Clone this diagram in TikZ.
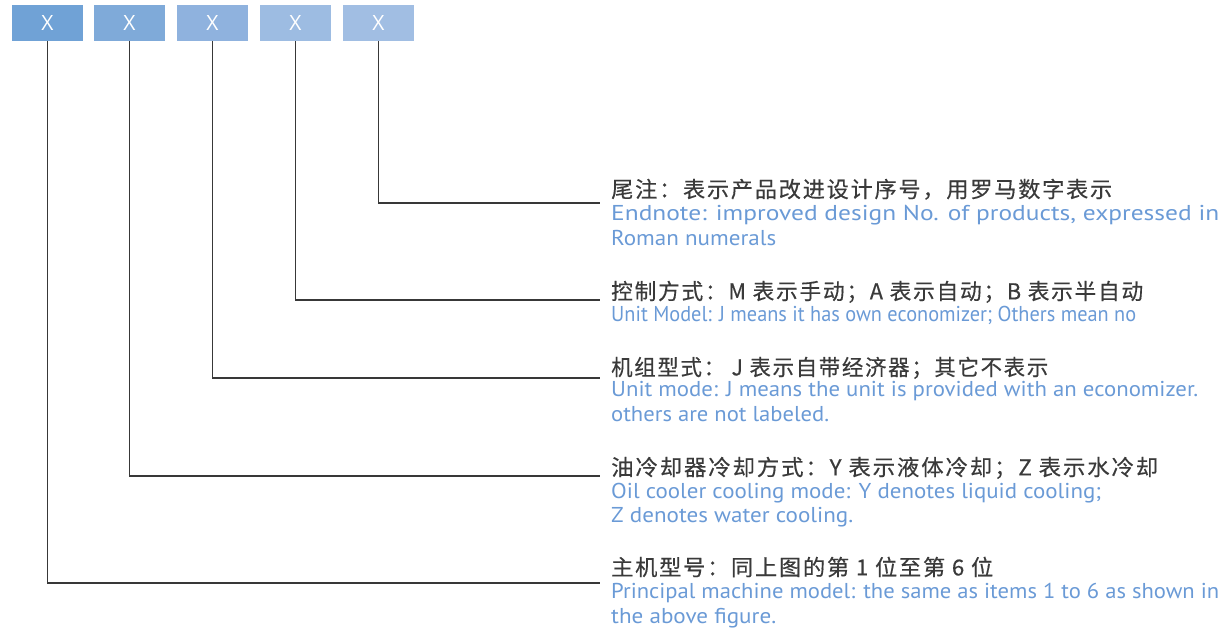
\documentclass[tikz,border=0pt]{standalone}
\usepackage{fontspec}
\usepackage{graphicx}
\newfontfamily\cjkfont[LetterSpace=8,FakeBold=0.4]{Noto Sans CJK SC}
\newfontfamily\enfont{PT Sans}
\newfontfamily\boxfont{Open Sans}
\newcommand\fitw[2]{\resizebox{#1pt}{\height}{#2}}
\definecolor{bxA}{HTML}{70A2D6}
\definecolor{bxB}{HTML}{7FAAD9}
\definecolor{bxC}{HTML}{8FB2DE}
\definecolor{bxD}{HTML}{9DBCE2}
\definecolor{bxE}{HTML}{A1BEE3}
\definecolor{zhgray}{HTML}{3A3A3A}
\definecolor{enblue}{HTML}{6A9AD6}
\definecolor{linegray}{HTML}{383838}
\tikzset{
  codebox/.style={minimum width=71pt, minimum height=36pt, inner sep=0pt, text=white,
    font=\boxfont\fontsize{21}{24}\selectfont},
  leader/.style={draw=linegray, line width=1.1pt},
  zh/.style={anchor=base west, inner sep=0pt, text=zhgray, font=\cjkfont\fontsize{22}{26}\selectfont},
  en/.style={anchor=base west, inner sep=0pt, text=enblue, font=\enfont\fontsize{21.5}{25}\selectfont},
}
\begin{document}
\begin{tikzpicture}[x=1pt, y=-1pt]
\useasboundingbox (0,0) rectangle (1230,630);
% code boxes
\node[codebox, fill=bxA] (b1) at (47.5,23) {X};
\node[codebox, fill=bxB] (b2) at (129.5,23) {X};
\node[codebox, fill=bxC] (b3) at (212.5,23) {X};
\node[codebox, fill=bxD] (b4) at (295.5,23) {X};
\node[codebox, fill=bxE] (b5) at (378.5,23) {X};
% leader ends
\coordinate (e5) at (600,203);
\coordinate (e4) at (600,300);
\coordinate (e3) at (600,378);
\coordinate (e2) at (600,476);
\coordinate (e1) at (600,583);
\draw[leader] (b5.south) |- (e5);
\draw[leader] (b4.south) |- (e4);
\draw[leader] (b3.south) |- (e3);
\draw[leader] (b2.south) |- (e2);
\draw[leader] (b1.south) |- (e1);
% texts
\node[zh] (z5) at (611,197.4) {\fitw{501}{尾注：表示产品改进设计序号，用罗马数字表示}};
\node[en] (n5a) at (611,220) {\fitw{608}{Endnote: improved design No. of products, expressed in}};
\node[en] (n5b) at (611,245) {\fitw{165}{Roman numerals}};
\node[zh] (z4) at (611,299.4) {\fitw{532}{控制方式：M 表示手动；A 表示自动；B 表示半自动}};
\node[en] (n4a) at (611,321.5) {\fitw{525}{Unit Model: J means it has own economizer; Others mean no}};
\node[zh] (z3) at (611,375.4) {\fitw{437}{机组型式： J 表示自带经济器；其它不表示}};
\node[en] (n3a) at (611,396.5) {\fitw{587}{Unit mode: J means the unit is provided with an economizer.}};
\node[en] (n3b) at (611,421.5) {\fitw{218}{others are not labeled.}};
\node[zh] (z2) at (611,475.4) {\fitw{547}{油冷却器冷却方式：Y 表示液体冷却；Z 表示水冷却}};
\node[en] (n2a) at (611,498.3) {\fitw{490}{Oil cooler cooling mode: Y denotes liquid cooling;}};
\node[en] (n2b) at (611,522.7) {\fitw{242}{Z denotes water cooling.}};
\node[zh] (z1) at (611,575.4) {\fitw{382}{主机型号：同上图的第 1 位至第 6 位}};
\node[en] (n1a) at (611,598.3) {\fitw{608}{Principal machine model: the same as items 1 to 6 as shown in}};
\node[en] (n1b) at (611,623.3) {\fitw{165}{the above figure.}};
\end{tikzpicture}
\end{document}
